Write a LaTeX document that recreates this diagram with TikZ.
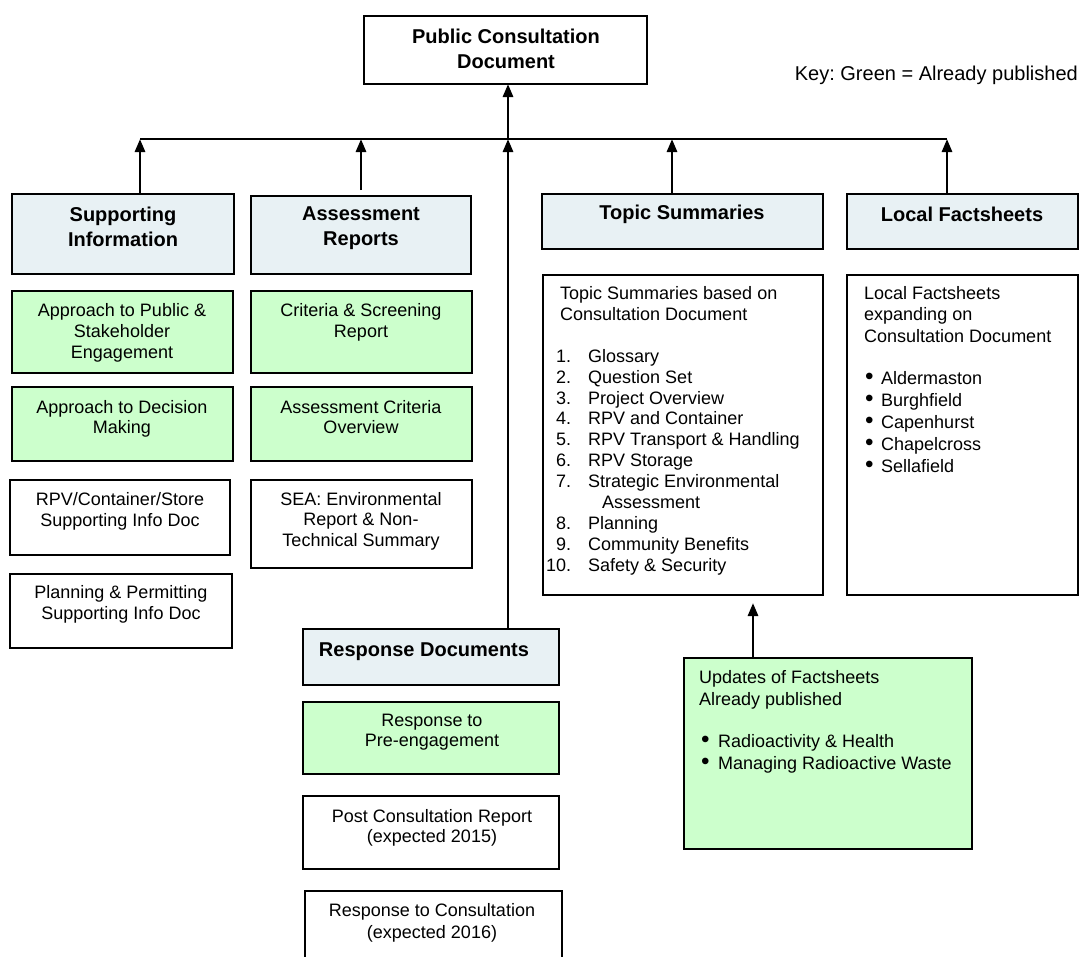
\documentclass[tikz,border=0pt]{standalone}
\usepackage{fontspec}
\setmainfont{Liberation Sans}
\usetikzlibrary{arrows.meta}
\definecolor{hdr}{RGB}{232,241,244}
\definecolor{grn}{RGB}{204,255,204}
\frenchspacing
\newcommand\mybul{\raisebox{-0.5pt}{\scalebox{1.35}{•}}}
\tikzset{
  box/.style={draw=black, line width=2pt, rectangle, inner sep=0pt, outer sep=0pt, anchor=north west},
  rg/.style={font=\fontsize{18}{21}\selectfont, inner sep=0pt, anchor=north, align=center},
  hd/.style={font=\fontsize{20}{24.5}\selectfont\bfseries, inner sep=0pt, anchor=north, align=center},
  lst/.style={font=\fontsize{18}{21.5}\selectfont, inner sep=0pt, anchor=north west, align=left},
  conn/.style={draw=black, line width=2.8pt},
  arr/.style={conn, -{Triangle[length=13pt,width=10pt]}}
}
\begin{document}
\begin{tikzpicture}[x=1pt,y=-1pt]
\useasboundingbox (0,0) rectangle (1081,956);
\fill[white] (0,0) rectangle (1081,956);

% boxes
\node[box, fill=white, minimum width=283pt, minimum height=68pt] (pcd) at (364,16) {};
\node[box, fill=hdr, minimum width=222pt, minimum height=80pt] (si) at (12,194) {};
\node[box, fill=hdr, minimum width=220pt, minimum height=78pt] (ar) at (251,196) {};
\node[box, fill=hdr, minimum width=281pt, minimum height=55pt] (ts) at (542,194) {};
\node[box, fill=hdr, minimum width=231pt, minimum height=55pt] (lf) at (847,194) {};
\node[box, fill=grn, minimum width=221pt, minimum height=82pt] (ap) at (12,291) {};
\node[box, fill=grn, minimum width=221pt, minimum height=82pt] (cs) at (251,291) {};
\node[box, fill=grn, minimum width=221pt, minimum height=74pt] (ad) at (12,387) {};
\node[box, fill=grn, minimum width=221pt, minimum height=74pt] (ac) at (251,387) {};
\node[box, fill=white, minimum width=220pt, minimum height=75pt] (rpv) at (10,480) {};
\node[box, fill=white, minimum width=221pt, minimum height=88pt] (sea) at (251,480) {};
\node[box, fill=white, minimum width=222pt, minimum height=74pt] (pp) at (10,574) {};
\node[box, fill=hdr, minimum width=256pt, minimum height=56pt] (rd) at (303,629) {};
\node[box, fill=grn, minimum width=256pt, minimum height=72pt] (rp) at (303,702) {};
\node[box, fill=white, minimum width=256pt, minimum height=73pt] (pc) at (303,796) {};
\node[box, fill=white, minimum width=257pt, minimum height=84pt] (rc) at (305,891) {};
\node[box, fill=white, minimum width=280pt, minimum height=320pt] (tsl) at (543,275) {};
\node[box, fill=white, minimum width=231pt, minimum height=320pt] (lfl) at (847,275) {};
\node[box, fill=grn, minimum width=288pt, minimum height=191pt] (up) at (684,658) {};

% texts
\node[hd, font=\fontsize{20}{25}\selectfont\bfseries] (pcdt) at (506,29) {Public Consultation\\Document};
\node[font=\fontsize{20}{24}\selectfont, inner sep=0pt, anchor=east] (key) at (1078,75) {Key: Green = Already published};
\node[hd] (sit) at (123,207) {Supporting\\Information};
\node[hd] (art) at (361,207) {Assessment\\Reports};
\node[hd] (tst) at (682,205) {Topic Summaries};
\node[hd] (lft) at (962,207) {Local Factsheets};
\node[hd] (rdt) at (424,643) {Response Documents};

\node[rg] (apt) at (122,303) {Approach to Public \&\\Stakeholder\\Engagement};
\node[rg] (cst) at (361,303) {Criteria \& Screening\\Report};
\node[rg, font=\fontsize{18}{20}\selectfont] (adt) at (122,400) {Approach to Decision\\Making};
\node[rg, font=\fontsize{18}{20}\selectfont] (act) at (361,400) {Assessment Criteria\\Overview};
\node[rg] (rpvt) at (120,492) {RPV/Container/Store\\Supporting Info Doc};
\node[rg, font=\fontsize{18}{20.5}\selectfont] (seat) at (361,492) {SEA: Environmental\\Report \& Non-\\Technical Summary};
\node[rg] (ppt) at (121,585) {Planning \& Permitting\\Supporting Info Doc};
\node[rg, font=\fontsize{18}{20}\selectfont] (rpt) at (432,714) {Response to\\Pre-engagement};
\node[rg, font=\fontsize{18}{20.5}\selectfont] (pct) at (432,809) {Post Consultation Report\\(expected 2015)};
\node[rg, font=\fontsize{18}{22}\selectfont] (rct) at (432,903) {Response to Consultation\\(expected 2016)};

\node[lst, font=\fontsize{18}{21}\selectfont] (tsh) at (560,286) {Topic Summaries based on\\Consultation Document};
\node[lst, font=\fontsize{18}{20.9}\selectfont] (tsi) at (546,349) {%
\makebox[25pt][r]{1.}\hspace{17pt}Glossary\\
\makebox[25pt][r]{2.}\hspace{17pt}Question Set\\
\makebox[25pt][r]{3.}\hspace{17pt}Project Overview\\
\makebox[25pt][r]{4.}\hspace{17pt}RPV and Container\\
\makebox[25pt][r]{5.}\hspace{17pt}RPV Transport \& Handling\\
\makebox[25pt][r]{6.}\hspace{17pt}RPV Storage\\
\makebox[25pt][r]{7.}\hspace{17pt}Strategic Environmental\\
\hspace{56pt}Assessment\\
\makebox[25pt][r]{8.}\hspace{17pt}Planning\\
\makebox[25pt][r]{9.}\hspace{17pt}Community Benefits\\
\makebox[25pt][r]{10.}\hspace{17pt}Safety \& Security};

\node[lst] (lfh) at (864,286) {Local Factsheets\\expanding on\\Consultation Document};
\node[lst, font=\fontsize{18}{22}\selectfont] (lfi) at (865,371) {%
\makebox[16pt][l]{\mybul}Aldermaston\\
\makebox[16pt][l]{\mybul}Burghfield\\
\makebox[16pt][l]{\mybul}Capenhurst\\
\makebox[16pt][l]{\mybul}Chapelcross\\
\makebox[16pt][l]{\mybul}Sellafield};

\node[lst, font=\fontsize{18}{22}\selectfont] (uph) at (699,670) {Updates of Factsheets\\Already published};
\node[lst, font=\fontsize{18}{22}\selectfont] (upi) at (701,734) {%
\makebox[17pt][l]{\mybul}Radioactivity \& Health\\
\makebox[17pt][l]{\mybul}Managing Radioactive Waste};

% connectors
\coordinate (bSI) at (140,139);
\coordinate (bAR) at (361,139);
\coordinate (bRD) at (508,139);
\coordinate (bTS) at (672,139);
\coordinate (bLF) at (947,139);
\coordinate (uptip) at (753,603);
\draw[conn] (bSI) -- (bLF);
\draw[arr] (bRD) -- (bRD |- pcd.south);
\draw[arr] (bSI |- si.north) -- (bSI);
\draw[arr, shorten <=6pt] (ar.north) -- (bAR);
\draw[arr] (bRD |- rd.north) -- (bRD);
\draw[arr] (bTS |- ts.north) -- (bTS);
\draw[arr] (bLF |- lf.north) -- (bLF);
\draw[arr] (uptip |- up.north) -- (uptip);
\end{tikzpicture}
\end{document}
